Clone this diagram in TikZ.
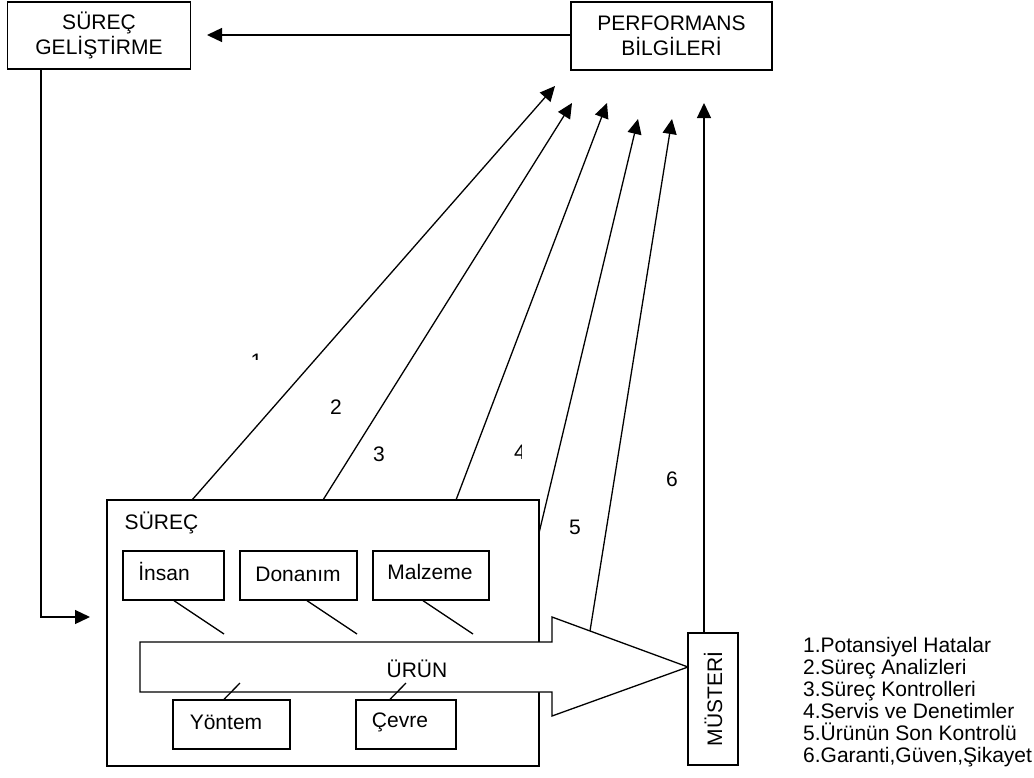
\documentclass[tikz,border=0pt]{standalone}
\usepackage{fontspec}
\setmainfont{Liberation Sans}
\usetikzlibrary{arrows.meta}
\begin{document}
\begin{tikzpicture}[x=1pt,y=-1pt,
  every node/.style={font=\fontsize{21}{25}\selectfont, inner sep=0pt},
  bx/.style={draw, line width=1.3pt, fill=white},
  ln/.style={line width=1.3pt},
  arr/.style={line width=1.3pt, -{Triangle[length=15pt,width=14pt]}}]
\useasboundingbox (0,0) rectangle (1034,777);
% top boxes
\node[bx, minimum width=183, minimum height=67, align=center] (gel) at (99,35.5) {SÜREÇ\\GELİŞTİRME};
\node[bx, minimum width=201, minimum height=68, align=center] (perf) at (671.5,36) {PERFORMANS\\BİLGİLERİ};
\coordinate (gtip) at (207,35);
\draw[arr] (perf.west |- gtip) -- (gtip);
% SÜREÇ box
\node[bx, minimum width=432, minimum height=266] (surec) at (323,633) {};
\node (surecl) at (161.5,523) {SÜREÇ};
% sub boxes
\node[bx, minimum width=101, minimum height=49] (insan) at (173.5,575.5) {};
\node (insant) at (164,571) {İnsan};
\node[bx, minimum width=117, minimum height=49] (donanim) at (298.5,575.5) {};
\node (donanimt) at (298,574) {Donanım};
\node[bx, minimum width=116, minimum height=49] (malzeme) at (431,575.5) {};
\node (malzemet) at (430,572) {Malzeme};
\node[bx, minimum width=117, minimum height=49] (yontem) at (231.5,724.5) {};
\node (yontemt) at (226,722) {Yöntem};
\node[bx, minimum width=100, minimum height=49] (cevre) at (406,724.5) {};
\node (cevret) at (400,722) {Çevre};
% URUN arrow
\draw[ln, fill=white] (140,642) -- (552,642) -- (552,617) -- (688,667) coordinate (utip) -- (552,716) -- (552,692) -- (140,692) -- cycle;
\node (urun) at (417,669) {ÜRÜN};
% factor lines
\coordinate (i2) at (224,634);
\coordinate (d2) at (357,634);
\coordinate (m2) at (473,634);
\coordinate (y2) at (240,683);
\coordinate (c2) at (406,683);
\draw[ln] (insan.south) ++(0.5,0) coordinate (i1) -- (i2);
\draw[ln] (donanim.south) ++(8.5,0) coordinate (d1) -- (d2);
\draw[ln] (malzeme.south) ++(-8,0) coordinate (m1) -- (m2);
\draw[ln] (yontem.north) ++(-7.5,0) coordinate (y1) -- (y2);
\draw[ln] (cevre.north) ++(-16,0) coordinate (c1) -- (c2);
% MUSTERI
\node[bx, rotate=90, minimum width=132, minimum height=50] (must) at (713,699) {MÜSTERİ};
% feedback
\coordinate (fb) at (41,617);
\coordinate (fbt) at (90,617);
\draw[arr] (gel.south -| fb) -- (fb) -- (fbt);
% arrows to performans
\coordinate (s1) at (192,500); \coordinate (t1) at (555,86);
\coordinate (s2) at (323,500); \coordinate (t2) at (572,103);
\coordinate (s3) at (456,500); \coordinate (t3) at (607,103);
\coordinate (s4) at (539,533); \coordinate (t4) at (638,119);
\coordinate (s5) at (590,631); \coordinate (t5) at (672,119);
\coordinate (t6) at (704,103);
\draw[arr] (s1) -- (t1);
\draw[arr] (s2) -- (t2);
\draw[arr] (s3) -- (t3);
\draw[arr] (s4) -- (t4);
\draw[arr] (s5) -- (t5);
\draw[arr] (must.east -| t6) -- (t6);
% numbers
\begin{scope}
\clip (245,345) rectangle (257.2,359);
\node[anchor=north east] (n1) at (262.5,353.5) {1};
\end{scope}
\node (n2) at (336,407) {2};
\node (n3) at (379,454) {3};
\begin{scope}
\clip (505,435) rectangle (521.5,470);
\node (n4) at (520,452) {4};
\end{scope}
\node (n5) at (575,527) {5};
\node (n6) at (672,479) {6};
% legend
\node[anchor=west, align=left, font=\fontsize{21}{22}\selectfont] (leg) at (803,702) {1.Potansiyel Hatalar\\2.Süreç Analizleri\\3.Süreç Kontrolleri\\4.Servis ve Denetimler\\5.Ürünün Son Kontrolü\\6.Garanti,Güven,Şikayet};
\end{tikzpicture}
\end{document}
